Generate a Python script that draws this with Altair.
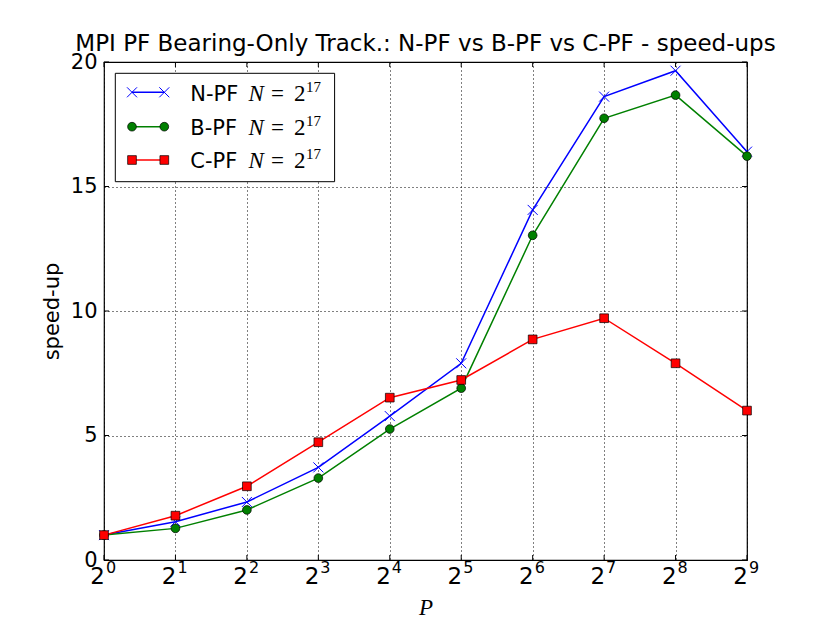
import altair as alt
import pandas as pd

# ---------------- data ----------------
P = [1, 2, 4, 8, 16, 32, 64, 128, 256, 512]
npf = [1.0, 1.54, 2.33, 3.72, 5.78, 7.90, 14.06, 18.61, 19.65, 16.40]
bpf = [1.0, 1.27, 2.01, 3.29, 5.26, 6.90, 13.04, 17.74, 18.67, 16.22]
cpf = [1.0, 1.78, 2.96, 4.73, 6.52, 7.23, 8.86, 9.71, 7.90, 6.00]
series_names = ["N-PF", "B-PF", "C-PF"]
series_values = [npf, bpf, cpf]
series_colors = ["#0000ff", "#008000", "#ff0000"]
tick_base = "2"
tick_exps = ["0", "1", "2", "3", "4", "5", "6", "7", "8", "9"]
y_ticks = [0, 5, 10, 15, 20]
title_text = "MPI PF Bearing-Only Track.: N-PF vs B-PF vs C-PF - speed-ups"
x_title = "P"
y_title = "speed-up"
legend_math = ["N", "=", "2", "17"]

W, H = 643, 498
FONT = "DejaVu Sans"
SERIF = "Liberation Serif"

xscale = alt.Scale(type="log", base=2, domain=[1, 512], nice=False)
yscale = alt.Scale(domain=[0, 20], nice=False)

XA = alt.Axis(values=P, labels=False, ticks=False, domain=False,
              grid=True, gridColor="black", gridDash=[1, 3],
              gridWidth=1, gridOpacity=1,
              title=x_title, titleFont=SERIF, titleFontStyle="italic",
              titleFontWeight="normal", titleFontSize=23,
              titleColor="black", titlePadding=36)
YA = alt.Axis(values=y_ticks, grid=True, gridColor="black",
              gridDash=[1, 3], gridWidth=1, gridOpacity=1,
              ticks=False, domain=False, labelFont=FONT,
              labelFontSize=21, labelColor="black", labelPadding=7,
              title=y_title, titleFont=FONT, titleFontSize=21,
              titleFontWeight="normal", titleColor="black",
              titlePadding=8)

X_MARK = "M-1,-1L1,1M-1,1L1,-1"
shapes = [X_MARK, "circle", "square"]

layers = []
ticks_df = pd.DataFrame({"P": P, "exp": tick_exps, "base": [tick_base] * len(P)})
yt_df = pd.DataFrame({"v": y_ticks})

# data series
for name, vals, col, shp in zip(series_names, series_values, series_colors, shapes):
    df = pd.DataFrame({"P": P, "speedup": vals, "series": [name] * len(P)})
    base = alt.Chart(df).encode(
        x=alt.X("P:Q", scale=xscale, axis=XA),
        y=alt.Y("speedup:Q", scale=yscale, axis=YA),
    )
    layers.append(base.mark_line(color=col, strokeWidth=1.5))
    if shp == X_MARK:
        layers.append(base.mark_point(shape=shp, size=100, stroke=col,
                                      strokeWidth=1.0, filled=False, opacity=1))
    else:
        layers.append(base.mark_point(shape=shp, size=76, filled=True, fill=col,
                                      stroke="black", strokeWidth=0.7,
                                      opacity=1, fillOpacity=1))

# inward ticks (matplotlib style) on all four sides
xt = alt.Chart(ticks_df).encode(x=alt.X("P:Q", scale=xscale, axis=XA))
layers.append(xt.mark_rule(color="black", strokeWidth=1).encode(y=alt.value(0), y2=alt.value(5)))
layers.append(xt.mark_rule(color="black", strokeWidth=1).encode(y=alt.value(H - 5), y2=alt.value(H)))
yt = alt.Chart(yt_df).encode(y=alt.Y("v:Q", scale=yscale, axis=YA))
layers.append(yt.mark_rule(color="black", strokeWidth=1).encode(x=alt.value(0), x2=alt.value(5)))
layers.append(yt.mark_rule(color="black", strokeWidth=1).encode(x=alt.value(W - 5), x2=alt.value(W)))

# x tick labels 2^k
layers.append(xt.mark_text(align="right", baseline="alphabetic", fontSize=23,
                           font=FONT, color="black", dx=1).encode(
    y=alt.value(H + 24), text="base:N"))
layers.append(xt.mark_text(align="left", baseline="alphabetic", fontSize=16,
                           font=FONT, color="black", dx=2).encode(
    y=alt.value(H + 13), text="exp:N"))

# legend
one = pd.DataFrame({"k": [0]})
layers.append(alt.Chart(one).mark_rect(fill="white", stroke="black", strokeWidth=1).encode(
    x=alt.value(11.3), x2=alt.value(230.6), y=alt.value(11.3), y2=alt.value(119.7)))
row_y = [30.3, 64.7, 98.0]
for name, col, shp, ry in zip(series_names, series_colors, shapes, row_y):
    lg = alt.Chart(one)
    layers.append(lg.mark_rule(color=col, strokeWidth=1.5).encode(
        x=alt.value(28), x2=alt.value(60.3), y=alt.value(ry)))
    for mx in (28, 60.3):
        if shp == X_MARK:
            layers.append(lg.mark_point(shape=shp, size=100, stroke=col, strokeWidth=1.0,
                                        filled=False, opacity=1).encode(
                x=alt.value(mx), y=alt.value(ry)))
        else:
            layers.append(lg.mark_point(shape=shp, size=76, filled=True, fill=col,
                                        stroke="black", strokeWidth=0.7, opacity=1,
                                        fillOpacity=1).encode(
                x=alt.value(mx), y=alt.value(ry)))
    bl = ry + 8.4
    layers.append(lg.mark_text(text=name, align="left", baseline="alphabetic",
                               font=FONT, fontSize=21, color="black").encode(
        x=alt.value(86.3), y=alt.value(bl)))
    layers.append(lg.mark_text(text=legend_math[0], align="left", baseline="alphabetic",
                               font=SERIF, fontStyle="italic", fontSize=23, color="black").encode(
        x=alt.value(144.6), y=alt.value(bl)))
    layers.append(lg.mark_text(text=legend_math[1], align="left", baseline="alphabetic",
                               font=SERIF, fontSize=23, color="black").encode(
        x=alt.value(167), y=alt.value(bl)))
    layers.append(lg.mark_text(text=legend_math[2], align="left", baseline="alphabetic",
                               font=SERIF, fontSize=23, color="black").encode(
        x=alt.value(190), y=alt.value(bl)))
    layers.append(lg.mark_text(text=legend_math[3], align="left", baseline="alphabetic",
                               font=SERIF, fontSize=15, color="black").encode(
        x=alt.value(202), y=alt.value(bl - 9)))

chart = alt.layer(*layers).properties(
    width=W, height=H,
    title=alt.Title(title_text, font=FONT, fontSize=23, fontWeight="normal",
                    color="black", anchor="middle", frame="group",
                    baseline="alphabetic", offset=11, dy=34),
    autosize=alt.AutoSizeParams(type="none"),
    padding={"left": 96, "top": 54, "right": 75, "bottom": 60},
).configure(background="white").configure_view(stroke="black", strokeWidth=1.2)

chart.save("out.html", embed_options={"renderer": "svg", "actions": False})
